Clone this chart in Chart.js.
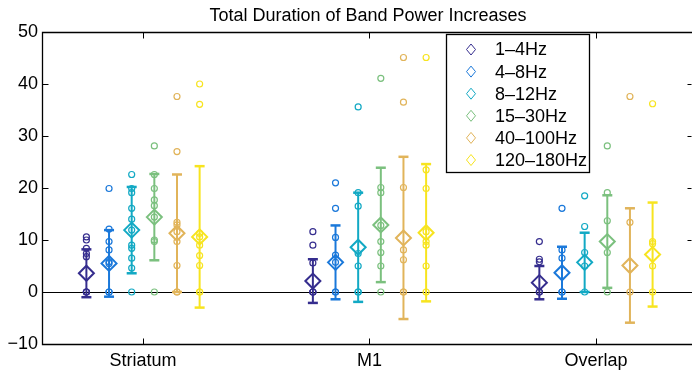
<!DOCTYPE html>
<html>
<head>
<meta charset="utf-8">
<script src="https://cdn.jsdelivr.net/npm/chart.js@4/dist/chart.umd.min.js"></script>
<style>
  html, body { margin: 0; padding: 0; background: #fff; overflow: hidden; }
  canvas { display: block; }
</style>
</head>
<body>
<canvas id="myChart" width="692" height="373"></canvas>
<script>
// categories and frequency bands
var categories = ['Striatum', 'M1', 'Overlap'];
var bands = ['1\u20134Hz', '4\u20138Hz', '8\u201312Hz', '15\u201330Hz', '40\u2013100Hz', '120\u2013180Hz'];
var bandColors = ['#352d8e', '#1a78da', '#12a9c4', '#7bc07e', '#e1b45a', '#f7e41f'];
var yTicks = [-10, 0, 10, 20, 30, 40, 50];

// mean and error (half length of bar) for each band, per category
var meanStriatum = [3.6, 5.5, 11.9, 14.4, 11.3, 10.6];
var errStriatum  = [4.6, 6.4, 8.3, 8.3, 11.3, 13.6];
var meanM1 = [2.1, 5.7, 8.6, 12.9, 10.4, 11.4];
var errM1  = [4.2, 7.1, 10.5, 11.0, 15.6, 13.2];
var meanOverlap = [1.8, 3.7, 5.7, 9.7, 5.1, 7.2];
var errOverlap  = [3.2, 5.0, 5.7, 8.9, 11.0, 10.0];

// individual values (circles)
var ptsStriatum = [
  [10.6, 10.0, 8.4, 7.4, 6.8, 0, 0, 0],
  [19.9, 12.1, 9.7, 8.1, 5.8, 5.5, 0, 0],
  [22.6, 19.9, 19.1, 16.1, 14.0, 11.9, 9.0, 8.4, 6.5, 4.6, 0],
  [28.1, 22.6, 19.9, 17.7, 16.6, 14.4, 10.0, 9.7, 0],
  [37.6, 27.0, 13.4, 12.9, 11.6, 9.7, 5.1, 0, 0],
  [40.0, 36.1, 11.3, 10.6, 9.0, 7.0, 5.1, 0, 0]
];
var ptsM1 = [
  [11.6, 9.0, 5.6, 0, 0, 0],
  [21.0, 16.1, 10.5, 7.1, 5.7, 0, 0],
  [35.6, 19.1, 16.5, 7.4, 5.0, 0, 0],
  [41.1, 20.1, 19.1, 12.8, 9.7, 7.6, 5.0, 0],
  [45.1, 36.5, 20.1, 8.1, 6.2, 0, 0],
  [45.1, 23.5, 19.9, 11.6, 9.7, 9.0, 5.0, 0]
];
var ptsOverlap = [
  [9.7, 6.3, 5.8, 0, 0],
  [16.1, 8.1, 6.5, 0, 0],
  [18.5, 12.6, 7.6, 5.0, 0],
  [28.1, 19.1, 13.7, 7.6, 0],
  [37.6, 13.4, 0],
  [36.2, 9.7, 9.3, 5.0, 0]
];

var means = [meanStriatum, meanM1, meanOverlap];
var errs = [errStriatum, errM1, errOverlap];
var pts = [ptsStriatum, ptsM1, ptsOverlap];
var FONT = '"Liberation Sans", Arial, Helvetica, sans-serif';

function xPos(c, b) { return (c + 1) + (b - 2.5) * 0.1; }

var datasets = [];
// error bars
for (var b = 0; b < bands.length; b++) {
  for (var c = 0; c < categories.length; c++) {
    datasets.push({
      type: 'line',
      showLine: true,
      data: [{x: xPos(c, b), y: means[c][b] - errs[c][b]}, {x: xPos(c, b), y: means[c][b] + errs[c][b]}],
      borderColor: bandColors[b],
      borderWidth: 2,
      pointStyle: 'line',
      pointRadius: 5,
      pointBorderWidth: 2.5,
      pointBorderColor: bandColors[b]
    });
  }
}
// circles
for (var b = 0; b < bands.length; b++) {
  var d = [];
  for (var c = 0; c < categories.length; c++) {
    pts[c][b].forEach(function (v) { d.push({x: xPos(c, b), y: v}); });
  }
  datasets.push({
    data: d,
    pointStyle: 'circle',
    pointRadius: 3,
    pointBorderWidth: 1.2,
    pointBorderColor: bandColors[b],
    pointBackgroundColor: 'rgba(0,0,0,0)'
  });
}
// diamonds (means)
for (var b = 0; b < bands.length; b++) {
  var d = [];
  for (var c = 0; c < categories.length; c++) d.push({x: xPos(c, b), y: means[c][b]});
  datasets.push({
    data: d,
    pointStyle: 'rectRot',
    pointRadius: 7.5,
    pointBorderWidth: 2,
    pointBorderColor: bandColors[b],
    pointBackgroundColor: 'rgba(255,255,255,0)'
  });
}

var boxPlugin = {
  id: 'boxPlugin',
  beforeDatasetsDraw: function (chart) {
    var ctx = chart.ctx, a = chart.chartArea, y0 = Math.round(chart.scales.y.getPixelForValue(0)) + 0.5;
    ctx.save();
    ctx.strokeStyle = '#000';
    ctx.lineWidth = 1;
    ctx.beginPath();
    ctx.moveTo(a.left, y0); ctx.lineTo(a.right, y0);
    ctx.stroke();
    ctx.restore();
  },
  afterDatasetsDraw: function (chart) {
    var ctx = chart.ctx, a = chart.chartArea, xs = chart.scales.x, ys = chart.scales.y;
    ctx.save();
    ctx.strokeStyle = '#000';
    ctx.lineWidth = 1.3;
    var l = Math.round(a.left) + 0.5, r = Math.round(a.right) - 0.5;
    var t = Math.round(a.top) + 0.5, bt = Math.round(a.bottom) + 0.5;
    // axes box (right side falls on the canvas edge)
    ctx.beginPath();
    ctx.moveTo(a.right, t); ctx.lineTo(l, t); ctx.lineTo(l, bt); ctx.lineTo(a.right, bt);
    ctx.stroke();
    ctx.lineWidth = 1;
    ctx.beginPath();
    yTicks.forEach(function (v) {
      var y = Math.round(ys.getPixelForValue(v)) + 0.5;
      ctx.moveTo(l, y); ctx.lineTo(l + 6, y);
      ctx.moveTo(r, y); ctx.lineTo(r - 4, y);
    });
    categories.forEach(function (n, i) {
      var x = Math.round(xs.getPixelForValue(i + 1)) + 0.5;
      ctx.moveTo(x, t); ctx.lineTo(x, t + 6);
      ctx.moveTo(x, bt); ctx.lineTo(x, bt - 6);
    });
    ctx.stroke();

    // title
    ctx.fillStyle = '#000';
    ctx.font = '18px ' + FONT;
    ctx.textAlign = 'center';
    ctx.textBaseline = 'alphabetic';
    ctx.fillText('Total Duration of Band Power Increases', 368, 21);

    // legend
    var lx = 446.5, ly = 34.5, lw = 143, lh = 138;
    ctx.fillStyle = '#fff';
    ctx.fillRect(lx, ly, lw, lh);
    ctx.lineWidth = 1.3;
    ctx.strokeRect(lx, ly, lw, lh);
    ctx.textAlign = 'left';
    ctx.textBaseline = 'middle';
    bands.forEach(function (name, i) {
      var cy = 49.5 + i * 22.1, cx = 471;
      ctx.strokeStyle = bandColors[i];
      ctx.lineWidth = 1;
      ctx.beginPath();
      ctx.moveTo(cx - 4.5, cy); ctx.lineTo(cx, cy - 5.5);
      ctx.lineTo(cx + 4.5, cy); ctx.lineTo(cx, cy + 5.5);
      ctx.closePath();
      ctx.stroke();
      ctx.fillStyle = '#000';
      ctx.fillText(name, 495, cy + 1);
    });
    ctx.restore();
  }
};

var ctx = document.getElementById('myChart').getContext('2d');
var chart = new Chart(ctx, {
  type: 'scatter',
  data: { datasets: datasets },
  options: {
    responsive: false,
    animation: false,
    layout: { autoPadding: false, padding: { left: 0, top: 32, right: 0, bottom: 0 } },
    plugins: { legend: { display: false }, tooltip: { enabled: false }, title: { display: false } },
    scales: {
      x: {
        type: 'linear',
        min: 0.554,
        max: 3.424,
        grid: { display: false, drawTicks: false },
        border: { display: false },
        afterFit: function (s) { s.height = 29; s.paddingLeft = 0; s.paddingRight = 0; },
        afterBuildTicks: function (s) { s.ticks = categories.map(function (n, i) { return {value: i + 1}; }); },
        ticks: {
          autoSkip: false,
          maxRotation: 0,
          padding: 6,
          color: '#000',
          font: { family: FONT, size: 18 },
          callback: function (v) { return categories[v - 1]; }
        }
      },
      y: {
        min: -10,
        max: 50,
        grid: { display: false, drawTicks: false },
        border: { display: false },
        afterFit: function (s) { s.width = 42; s.paddingTop = 0; s.paddingBottom = 0; },
        afterBuildTicks: function (s) { s.ticks = yTicks.map(function (v) { return {value: v}; }); },
        ticks: {
          padding: 4,
          color: '#000',
          font: { family: FONT, size: 18 },
          callback: function (v) { return v < 0 ? '\u2212' + Math.abs(v) : String(v); }
        }
      }
    }
  },
  plugins: [boxPlugin]
});
</script>
</body>
</html>
